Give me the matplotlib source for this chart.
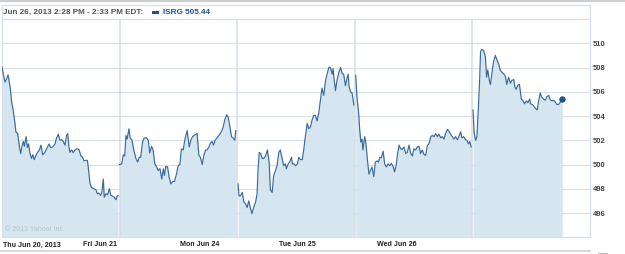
import matplotlib
matplotlib.use('Agg')
import matplotlib.pyplot as plt
from matplotlib.lines import Line2D
from matplotlib.patches import Rectangle

# ---------------- data ----------------
day_labels = ["Thu Jun 20, 2013", "Fri Jun 21", "Mon Jun 24", "Tue Jun 25", "Wed Jun 26"]
label_pos = [0.006, 0.689, 1.514, 2.358, 3.186]          # in trading-day units
y_ticks = [496, 498, 500, 502, 504, 506, 508, 510]
header_text = "Jun 26, 2013 2:28 PM - 2:33 PM EDT:"
series_label = "ISRG 505.44"
last_price = 505.44

# minutes after 9:30 open, and prices, per trading day
thu_min = [0, 4, 10, 16, 20, 27, 32, 37, 43, 46, 52, 57, 62, 67, 71, 74, 80, 84, 88, 93,
           98, 102, 107, 115, 124, 129, 135, 142, 148, 156, 161, 168, 176, 181, 187, 192, 198, 203, 209, 214,
           218, 222, 225, 231, 236, 242, 248, 255, 262, 267, 272, 277, 283, 286, 292, 297, 305, 312, 316, 321,
           327, 331, 336, 339, 345, 350, 356, 361, 367, 372, 378, 382, 385]
thu_px = [508.04, 507.5, 506.8, 507.1, 507.4, 506.4, 505.16, 504.5, 503.4, 502.7,
          502.55, 501.6, 500.9, 501.6, 501.9, 501.5, 502.3, 501.4, 501.7, 500.9,
          500.5, 500.8, 500.4, 500.9, 501.2, 501.6, 500.8, 501.0, 501.3, 501.7,
          501.4, 501.45, 501.7, 502.2, 502.5, 502.0, 502.05, 501.9, 501.6, 502.4,
          502.55, 501.45, 501.0, 501.2, 500.98, 501.2, 501.3, 501.25, 500.7, 500.6,
          500.3, 500.35, 500.35, 499.8, 498.4, 498.1, 498.0, 497.9, 497.6, 497.65,
          497.45, 497.7, 498.8, 497.3, 497.6, 497.5, 498.0, 497.45, 497.4, 497.3,
          497.1, 497.4, 497.45]

fri_min = [0, 7, 12, 17, 21, 25, 31, 35, 41, 47, 54, 60, 65, 70, 76, 82, 89, 95, 100, 106,
           111, 117, 123, 128, 134, 140, 145, 149, 153, 159, 164, 170, 176, 182, 189, 194, 200, 205, 211, 216,
           224, 231, 236, 242, 250, 257, 263, 268, 274, 279, 285, 290, 296, 302, 307, 311, 317, 323, 330, 337,
           343, 349, 355, 360, 366, 371, 376, 382, 385]
fri_px = [500.0, 500.05, 500.8, 500.7, 502.4, 502.1, 502.95, 502.2, 502.0, 501.2,
          500.5, 500.2, 500.6, 500.6, 501.85, 502.2, 502.2, 502.0, 500.95, 501.5,
          501.2, 500.05, 499.8, 499.5, 499.65, 498.8, 499.65, 499.1, 499.85, 499.8,
          499.0, 498.4, 498.6, 498.6, 499.25, 499.9, 500.0, 501.3, 501.2, 502.0,
          502.8, 501.45, 502.0, 502.3, 502.45, 502.55, 500.75, 500.6, 500.0, 500.7,
          501.2, 501.2, 501.45, 501.8, 501.9, 501.6, 502.0, 502.2, 502.4, 502.7,
          503.05, 503.7, 504.1, 503.9, 503.1, 502.3, 502.2, 502.0, 502.8]

mon_min = [3, 6, 12, 17, 22, 27, 33, 38, 44, 49, 55, 61, 66, 69, 73, 78, 83, 88, 94, 100,
           106, 110, 116, 121, 127, 132, 138, 143, 149, 154, 160, 163, 169, 174, 180, 183, 189, 194, 200, 204,
           210, 216, 221, 225, 232, 237, 243, 248, 254, 259, 265, 270, 276, 281, 287, 293, 298, 304, 309, 315,
           318, 321, 326, 331, 337, 343, 348, 353, 359, 364, 368, 371, 376, 381, 387]
mon_px = [498.4, 497.4, 497.45, 497.7, 496.9, 496.8, 496.45, 497.0, 496.4, 495.95,
          496.5, 496.9, 497.6, 499.5, 501.0, 500.9, 500.5, 500.5, 500.7, 501.2,
          500.2, 497.9, 497.7, 499.1, 499.5, 499.9, 501.0, 501.2, 500.5, 499.9,
          500.05, 499.65, 500.05, 500.2, 500.6, 500.05, 500.05, 499.9, 500.05, 500.6,
          500.4, 500.4, 501.3, 502.1, 503.4, 502.95, 503.1, 503.65, 504.05, 504.05,
          503.6, 504.2, 505.3, 506.3, 505.7, 506.95, 507.45, 508.0, 508.0, 507.45,
          507.9, 507.1, 506.1, 506.95, 507.6, 508.0, 507.5, 507.45, 506.5, 507.1,
          507.45, 506.45, 506.0, 505.9, 504.9]

tue_min = [3, 7, 13, 16, 20, 24, 27, 33, 37, 42, 47, 52, 57, 63, 68, 74, 79, 83, 88, 94,
           99, 105, 110, 116, 121, 127, 132, 138, 141, 147, 152, 158, 163, 169, 174, 180, 185, 191, 196, 202,
           207, 213, 218, 224, 229, 235, 241, 246, 252, 257, 263, 268, 274, 279, 285, 290, 296, 301, 307, 312,
           318, 323, 329, 334, 340, 345, 351, 355, 361, 367, 372, 377, 381, 386]
tue_px = [507.35, 505.6, 504.2, 502.95, 501.85, 502.1, 501.2, 502.3, 501.7, 500.35,
          499.2, 499.5, 499.8, 499.0, 500.2, 500.3, 500.2, 500.6, 500.55, 501.1,
          500.05, 499.8, 500.05, 499.9, 500.1, 499.85, 499.4, 500.05, 500.75, 501.6,
          501.3, 501.25, 501.45, 500.9, 501.0, 501.6, 500.95, 500.7, 501.3, 501.2,
          501.45, 501.5, 500.9, 501.2, 500.85, 500.75, 501.6, 501.7, 502.3, 502.4,
          502.3, 502.55, 502.3, 502.5, 502.2, 502.3, 502.1, 502.55, 502.9, 502.75,
          502.5, 502.3, 502.1, 502.3, 502.05, 502.3, 502.7, 502.2, 502.3, 502.05,
          502.0, 501.7, 501.9, 501.45]

wed_min = [2, 6, 11, 15, 20, 24, 27, 31, 37, 43, 47, 51, 56, 60, 65, 70, 76, 81, 87, 92,
           98, 103, 109, 114, 120, 126, 131, 137, 141, 145, 151, 156, 162, 167, 173, 179, 184, 190, 193, 199,
           204, 210, 215, 219, 225, 230, 236, 242, 247, 253, 258, 263, 269, 275, 280, 286, 292, 295, 298]
wed_px = [504.5, 502.55, 502.0, 502.3, 504.75, 506.95, 509.3, 509.5, 509.4, 508.9,
          507.2, 507.8, 506.95, 506.6, 507.6, 508.45, 509.0, 508.65, 508.3, 507.8,
          507.6, 507.5, 507.3, 506.6, 507.2, 506.7, 506.95, 507.0, 506.4, 506.2,
          506.55, 506.6, 505.4, 505.3, 505.0, 505.25, 505.1, 505.4, 505.0, 504.95,
          504.8, 504.6, 504.5, 505.15, 505.9, 505.55, 505.4, 505.3, 505.6, 505.7,
          505.35, 505.25, 505.3, 505.15, 504.95, 504.95, 505.15, 505.35, last_price]

days_min = [thu_min, fri_min, mon_min, tue_min, wed_min]
days_px = [thu_px, fri_px, mon_px, tue_px, wed_px]
SESSION = 390.0

# ---------------- styling ----------------
LINE = '#3a6a9c'
FILL = '#d6e6f1'
GRID = '#d9e1e9'
SEP = '#d0dae4'
BLUE = '#1f5592'
FONT = 'Liberation Sans'

fig = plt.figure(figsize=(6.25, 2.54), dpi=100)
W, H = 625.0, 254.0

# overlay in pixel coords for frame decorations
ov = fig.add_axes([0, 0, 1, 1], zorder=0)
ov.set_xlim(0, W)
ov.set_ylim(H, 0)
ov.axis('off')
ov.add_line(Line2D([0, W], [1, 1], color='#cfcfcf', lw=1.6))
ov.add_patch(Rectangle((2, 5), 588, 232.3, fill=False, edgecolor='#d6dee6', lw=0.9))
ov.add_line(Line2D([2, 590], [19, 19], color='#d6dee6', lw=0.9))
ov.add_line(Line2D([0, 590], [251, 251], color='#d0d0d0', lw=1.2))
ov.add_line(Line2D([598, 607], [253, 253], color='#bbbbbb', lw=0.8))

# header
ov.text(3, 12, header_text, fontsize=5.85, color='#555555', fontweight='bold',
        va='center', ha='left', family=FONT)
ov.add_patch(Rectangle((152, 10.8), 7, 2.8, color=BLUE, lw=0))
ov.text(163, 12, series_label, fontsize=5.9, color=BLUE, fontweight='bold',
        va='center', ha='left', family=FONT)

# main plot axes
ax = fig.add_axes([2 / W, (H - 237.3) / H, 588 / W, 218.3 / H], zorder=1)
ax.patch.set_alpha(0)
ax.set_xlim(0, 5)
ax.set_ylim(494, 512)

for i, (mins, px) in enumerate(zip(days_min, days_px)):
    xs = [i + m / SESSION for m in mins]
    ax.fill_between(xs, px, 494, color=FILL, lw=0, zorder=1)
    ax.plot(xs, px, color=LINE, lw=0.85, zorder=3, solid_joinstyle='round')

# last point marker
ax.plot([4 + wed_min[-1] / SESSION], [wed_px[-1]], 'o', color=BLUE, ms=3.6, zorder=4)

# horizontal grid
for yv in y_ticks:
    ax.axhline(yv, color=GRID, lw=0.9, zorder=2)
# day separators
for d in range(1, 5):
    ax.axvline(d, color=SEP, lw=1.1, zorder=2, alpha=0.9)

for s in ax.spines.values():
    s.set_visible(False)

ax.yaxis.tick_right()
ax.set_yticks(y_ticks)
ax.set_yticklabels([str(v) for v in y_ticks])
ax.tick_params(axis='y', length=0, pad=2, labelsize=5.5, labelcolor='#444444')
for lab in ax.get_yticklabels():
    lab.set_fontweight('bold')
    lab.set_family(FONT)
ax.set_xticks([])

# day labels
for lbl, xp in zip(day_labels, label_pos):
    ax.text(xp, -0.035, lbl, transform=ax.get_xaxis_transform(), fontsize=5.1,
            fontweight='bold', color='#222222', ha='left', va='center', family=FONT)

# copyright
ax.text(0.005, 0.035, "\u00a9 2013 Yahoo! Inc.", transform=ax.transAxes, fontsize=5.0,
        color='#b3c3cf', ha='left', va='center', zorder=5, family=FONT)

fig.savefig('out.png', dpi=100)
